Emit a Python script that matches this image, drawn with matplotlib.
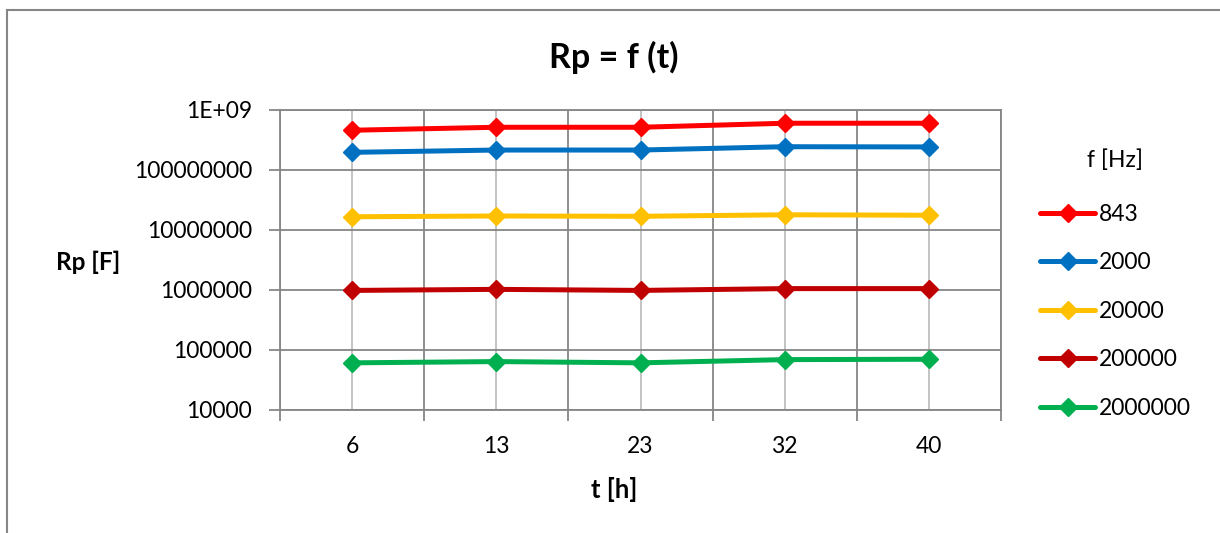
import matplotlib
matplotlib.use("Agg")
import matplotlib.pyplot as plt
from matplotlib.patches import Rectangle
from matplotlib.ticker import FixedLocator, NullLocator

plt.rcParams['font.family'] = ['Lato', 'DejaVu Sans']

categories = ["6", "13", "23", "32", "40"]
series_names = ["843", "2000", "20000", "200000", "2000000"]
rp_843 = [4.55e8, 5.1e8, 5.1e8, 5.95e8, 5.95e8]
rp_2000 = [1.95e8, 2.13e8, 2.13e8, 2.42e8, 2.4e8]
rp_20000 = [1.65e7, 1.7e7, 1.68e7, 1.78e7, 1.75e7]
rp_200000 = [9.8e5, 1.02e6, 9.8e5, 1.05e6, 1.05e6]
rp_2000000 = [6.1e4, 6.4e4, 6.1e4, 6.9e4, 7.0e4]
colors = ["#FF0000", "#0070C0", "#FFC000", "#C00000", "#00B050"]
y_ticks = [1e4, 1e5, 1e6, 1e7, 1e8, 1e9]
y_labels = ["10000", "100000", "1000000", "10000000", "100000000", "1E+09"]

fig = plt.figure(figsize=(12.2, 5.33), dpi=100)
ax = fig.add_axes([280/1220, 1-410/533, (1001-280)/1220, (410-109.7)/533])

x = list(range(len(categories)))
all_series = [rp_843, rp_2000, rp_20000, rp_200000, rp_2000000]
for name, vals, c in zip(series_names, all_series, colors):
    ax.plot(x, vals, color=c, lw=3.6, marker='D', ms=9.5, mec=c, mfc=c,
            label=name, solid_capstyle='round', zorder=3)

ax.set_yscale('log')
ax.set_ylim(1e4, 1e9)
ax.set_xlim(-0.5, len(categories) - 0.5)
ax.yaxis.set_major_locator(FixedLocator(y_ticks))
ax.yaxis.set_minor_locator(NullLocator())
ax.set_yticks(y_ticks)
ax.set_yticklabels(y_labels)

# category ticks at boundaries, labels centered
ax.set_xticks([i - 0.5 for i in range(len(categories) + 1)])
ax.set_xticklabels([""] * (len(categories) + 1))
ax.set_xticks(x, minor=True)
ax.set_xticklabels(categories, minor=True)
ax.tick_params(axis='x', which='minor', length=0, pad=19, labelsize=16.5)
ax.tick_params(axis='x', which='major', length=8, width=1.3, color='#868686')
ax.tick_params(axis='y', which='major', length=8, width=1.3, color='#868686',
               pad=12, labelsize=16.5)

# gridlines
for xb in [i - 0.5 for i in range(len(categories) + 1)]:
    ax.axvline(xb, color='#868686', lw=1.3, zorder=1)
for xc in x:
    ax.axvline(xc, color='#BEBEBE', lw=1.3, zorder=1)
for yt in y_ticks:
    ax.axhline(yt, color='#868686', lw=1.3, zorder=1)

for s in ax.spines.values():
    s.set_color('#868686')
    s.set_linewidth(1.3)

fig.text(614/1220, 1-57/533, "Rp = f (t)", ha='center', va='center',
         fontsize=24.5, fontweight='bold')
fig.text(88/1220, 1-262/533, "Rp [F]", ha='center', va='center',
         fontsize=17.5, fontweight='bold')
fig.text(614/1220, 1-490/533, "t [h]", ha='center', va='center',
         fontsize=18.5, fontweight='bold')

leg = ax.legend(loc='upper left', bbox_to_anchor=(1040/1220, 1-149/533),
                bbox_transform=fig.transFigure, frameon=False,
                title="f [Hz]", fontsize=16.5, title_fontsize=16.5,
                handlelength=2.4, handletextpad=0.17, labelspacing=1.2,
                borderaxespad=0, borderpad=0)
leg._legend_box.align = "center"
leg._legend_box.sep = 24

fig.patches.append(Rectangle((7/1220, -0.1), 1.2, (1-10.5/533) + 0.1,
                             transform=fig.transFigure, fill=False,
                             edgecolor='#868686', lw=1.5))

fig.savefig("out.png", dpi=100)
